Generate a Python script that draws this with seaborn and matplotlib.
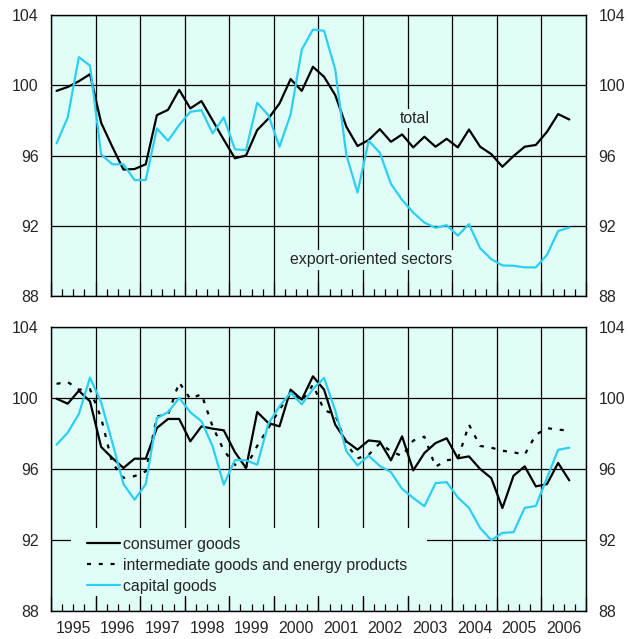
import numpy as np
import pandas as pd
import matplotlib
matplotlib.use("Agg")
import matplotlib.pyplot as plt
import matplotlib.transforms as mtransforms
from matplotlib.patches import Rectangle
from matplotlib.ticker import FixedLocator
import seaborn as sns

# ---- data: quarterly index values, 1995 Q1 to 2006 Q3 ----
quarters = pd.period_range("1995Q1", "2006Q3", freq="Q")

total = [99.68, 99.90, 100.23, 100.63, 97.86, 96.50, 95.20, 95.23, 95.50, 98.30,
         98.60, 99.74, 98.68, 99.10, 98.00, 96.90, 95.84, 96.00, 97.45, 98.10,
         98.96, 100.35, 99.68, 101.05, 100.48, 99.44, 97.64, 96.54, 96.88, 97.50,
         96.78, 97.20, 96.46, 97.07, 96.50, 96.95, 96.46, 97.48, 96.50, 96.08,
         95.36, 95.97, 96.50, 96.60, 97.35, 98.36, 98.05]

export_oriented = [96.69, 98.17, 101.60, 101.12, 96.06, 95.50, 95.50, 94.60, 94.60, 97.54,
                   96.84, 97.73, 98.49, 98.58, 97.26, 98.17, 96.35, 96.31, 99.00, 98.30,
                   96.50, 98.34, 102.03, 103.17, 103.10, 100.90, 96.03, 93.89, 96.84, 96.16,
                   94.38, 93.47, 92.75, 92.18, 91.88, 92.03, 91.44, 92.09, 90.72, 90.10,
                   89.74, 89.72, 89.63, 89.63, 90.34, 91.70, 91.90]

consumer = [99.96, 99.68, 100.41, 99.81, 97.24, 96.62, 96.06, 96.58, 96.58, 98.31,
            98.82, 98.82, 97.56, 98.40, 98.27, 98.18, 96.95, 96.06, 99.21, 98.59,
            98.40, 100.47, 99.91, 101.22, 100.47, 98.50, 97.56, 97.09, 97.61, 97.54,
            96.49, 97.84, 95.92, 96.90, 97.46, 97.73, 96.60, 96.71, 96.00, 95.49,
            93.80, 95.62, 96.15, 95.02, 95.15, 96.34, 95.36]

intermediate = [100.80, 100.90, 100.47, 100.50, 98.87, 96.34, 95.50, 95.60, 95.87, 98.97,
                99.06, 100.88, 99.95, 100.22, 98.40, 97.05, 96.24, 96.11, 97.30, 98.31,
                99.34, 100.28, 99.81, 100.75, 99.32, 99.06, 97.40, 96.60, 96.80, 97.45,
                97.00, 96.73, 97.60, 97.82, 96.13, 96.49, 96.58, 98.50, 97.30, 97.20,
                97.03, 96.94, 96.81, 97.93, 98.30, 98.22, 98.16]

capital = [97.37, 98.05, 99.10, 101.15, 99.75, 97.50, 95.15, 94.27, 95.15, 98.87,
           99.20, 100.00, 99.20, 98.69, 97.28, 95.12, 96.50, 96.49, 96.24, 98.55,
           99.53, 100.30, 99.64, 100.50, 101.13, 99.30, 97.00, 96.20, 96.75, 96.17,
           95.82, 94.88, 94.37, 93.90, 95.20, 95.26, 94.40, 93.81, 92.68, 91.99,
           92.40, 92.44, 93.81, 93.92, 95.50, 97.08, 97.20]

years = list(range(1995, 2007))
y_ticks = [88, 92, 96, 100, 104]

# quarter midpoints on a continuous year axis
x = np.array([q.year + (q.quarter - 0.5) / 4 for q in quarters])

# ---- style ----
sns.set_style("ticks")
plt.rcParams["font.family"] = ["Liberation Sans", "DejaVu Sans"]
plt.rcParams["font.size"] = 11.4

BG = "#e0fdf8"
CYAN = "#2ad0f0"
LW = 1.6

fig = plt.figure(figsize=(6.31, 6.39), dpi=100)
W, H = 631, 639
ax_top = fig.add_axes([51 / W, 1 - 296 / H, 535 / W, 281 / H])
ax_bot = fig.add_axes([51 / W, 1 - 611 / H, 535 / W, 284 / H])


def style_axes(ax):
    ax.set_facecolor(BG)
    ax.set_xlim(years[0], years[-1] + 1)
    ax.set_ylim(y_ticks[0], y_ticks[-1])
    ax.set_yticks(y_ticks)
    ax.set_yticklabels([str(v) for v in y_ticks])
    ax.xaxis.set_major_locator(FixedLocator(years + [years[-1] + 1]))
    ax.xaxis.set_minor_locator(
        FixedLocator([yr + k / 4 for yr in years for k in (1, 2, 3)]))
    ax.set_axisbelow(True)
    ax.grid(True, which="major", color="black", lw=0.9)
    ax.tick_params(axis="x", which="major", direction="in", length=10,
                   width=0.9, color="black", labelbottom=False)
    ax.tick_params(axis="x", which="minor", direction="in", length=5,
                   width=0.9, color="black")
    ax.tick_params(axis="y", length=0, labelleft=True, labelright=True, pad=9)
    for sp in ax.spines.values():
        sp.set_visible(True)
        sp.set_color("black")
        sp.set_linewidth(1.0)
    ax.set_xlabel("")
    ax.set_ylabel("")


# ---- upper panel ----
sns.lineplot(x=x, y=total, ax=ax_top, color="black", lw=LW)
sns.lineplot(x=x, y=export_oriented, ax=ax_top, color=CYAN, lw=LW)
style_axes(ax_top)
ax_top.text(2003.16, 98.1, "total", ha="center", va="center",
            bbox=dict(facecolor=BG, edgecolor="none", pad=1.5))
ax_top.text(2002.18, 90.05, "export-oriented sectors", ha="center", va="center",
            bbox=dict(facecolor=BG, edgecolor="none", pad=1.5))

# ---- lower panel ----
sns.lineplot(x=x, y=consumer, ax=ax_bot, color="black", lw=LW,
             label="consumer goods")
sns.lineplot(x=x, y=intermediate, ax=ax_bot, color="black", lw=LW,
             linestyle=(0, (1.8, 3.5)),
             label="intermediate goods and energy products")
sns.lineplot(x=x, y=capital, ax=ax_bot, color=CYAN, lw=LW,
             label="capital goods")
style_axes(ax_bot)

# plain panel behind the key, hiding the grid there
ax_bot.add_patch(Rectangle((0.0374, 0.053), 0.666, 0.238, transform=ax_bot.transAxes,
                           facecolor=BG, edgecolor="none", zorder=1))
ax_bot.legend(loc="upper left", bbox_to_anchor=(0.0667, 0.262), frameon=False,
              borderaxespad=0, borderpad=0, handlelength=2.08,
              handletextpad=0.22, labelspacing=0.38)

trans = mtransforms.blended_transform_factory(ax_bot.transData, ax_bot.transAxes)
for yr in years:
    ax_bot.text(yr + 0.5, -0.06, str(yr), transform=trans,
                ha="center", va="center")

fig.savefig("out.png", dpi=100, facecolor="white")
